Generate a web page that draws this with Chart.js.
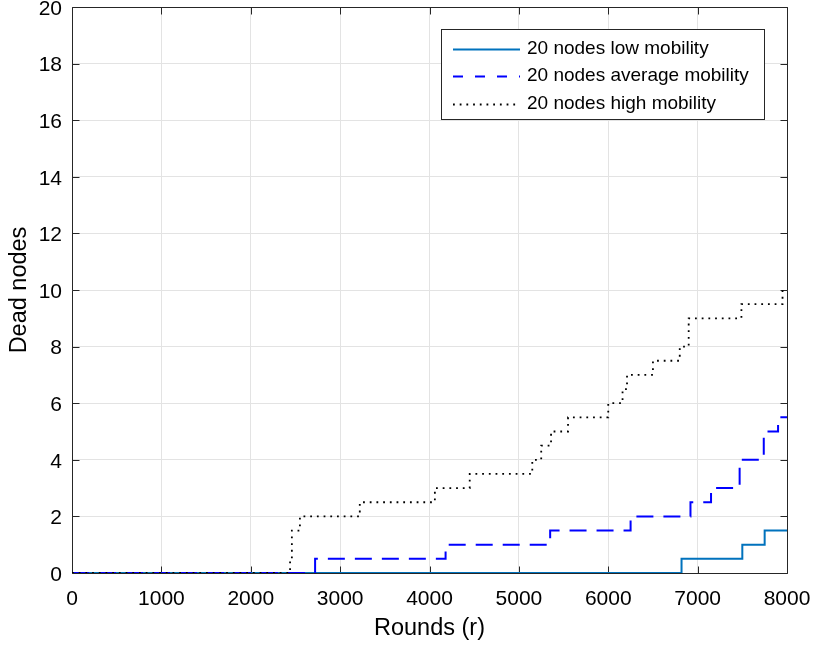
<!DOCTYPE html>
<html>
<head>
<meta charset="utf-8">
<script src="https://cdn.jsdelivr.net/npm/chart.js@4.4.1/dist/chart.umd.min.js"></script>
<style>
    html, body { margin: 0; padding: 0; background: #fff; }
</style>
</head>
<body>
<canvas id="chartDeadNodes" width="813" height="649"></canvas>
<script>
// Dead nodes vs rounds, 20 nodes, three mobility levels (step curves)

// x = round where the step happens, y = dead nodes after that round
const lowX = [0, 6820, 7500, 7750, 8000];
const lowY = [0, 0.5, 1, 1.5, 1.5];

const avgX = [0, 2720, 4180, 5350, 6250, 6920, 7150, 7470, 7740, 7900, 8000];
const avgY = [0, 0.5, 1, 1.5, 2, 2.5, 3, 4, 5, 5.5, 5.5];

const highX = [0, 2440, 2460, 2550, 3220, 4060, 4450, 5150, 5250, 5360, 5550, 6000, 6160, 6210, 6500, 6800, 6900, 7490, 7950, 8000];
const highY = [0, 0.5, 1.5, 2, 2.5, 3, 3.5, 4, 4.5, 5, 5.5, 6, 6.5, 7, 7.5, 8, 9, 9.5, 10, 10];

const seriesLabels = ['20 nodes low mobility', '20 nodes average mobility', '20 nodes high mobility'];

const xMin = 0, xMax = 8000, xStep = 1000;
const yMin = 0, yMax = 20, yStep = 2;

const FONT = "'Liberation Sans', Arial, Helvetica, sans-serif";
const AXIS_COLOR = '#262626';
const TEXT_COLOR = '#000';

const toPoints = (xs, ys) => xs.map((x, i) => ({ x, y: ys[i] }));

// ============================
// frame + inward ticks (matlab box style)
// ============================
const framePlugin = {
    id: 'frame',
    beforeDatasetsDraw(chart) {
        const { ctx, chartArea: a, scales: { x, y } } = chart;
        const px = v => Math.round(v) + 0.5;
        const L = px(a.left), R = px(a.right), T = px(a.top), B = px(a.bottom);
        const tick = 7;
        ctx.save();
        ctx.strokeStyle = AXIS_COLOR;
        ctx.lineWidth = 1;
        ctx.beginPath();
        ctx.rect(L, T, R - L, B - T);
        x.ticks.forEach(t => {
            const xp = px(x.getPixelForValue(t.value));
            ctx.moveTo(xp, B); ctx.lineTo(xp, B - tick);
            ctx.moveTo(xp, T); ctx.lineTo(xp, T + tick);
        });
        y.ticks.forEach(t => {
            const yp = px(y.getPixelForValue(t.value));
            ctx.moveTo(L, yp); ctx.lineTo(L + tick, yp);
            ctx.moveTo(R, yp); ctx.lineTo(R - tick, yp);
        });
        ctx.stroke();
        ctx.restore();
    }
};

// ============================
// legend box inside the plot, top right
// ============================
const legendDash = [[], [10, 12], [1.8, 4.9]];
const boxLegendPlugin = {
    id: 'boxLegend',
    afterDraw(chart) {
        const { ctx } = chart;
        const bx = 441.5, by = 29.5, bw = 323, bh = 90;
        ctx.save();
        ctx.fillStyle = '#fff';
        ctx.fillRect(bx, by, bw, bh);
        ctx.strokeStyle = AXIS_COLOR;
        ctx.lineWidth = 1;
        ctx.strokeRect(bx, by, bw, bh);

        ctx.font = '19px ' + FONT;
        ctx.textBaseline = 'middle';
        ctx.textAlign = 'left';
        const rows = [48.5, 76, 103.5];
        chart.data.datasets.forEach((ds, i) => {
            const yy = Math.round(rows[i]) + 0.5;
            ctx.beginPath();
            ctx.strokeStyle = ds.borderColor;
            ctx.lineWidth = ds.borderWidth;
            ctx.setLineDash(legendDash[i]);
            ctx.moveTo(453, yy);
            ctx.lineTo(520, yy);
            ctx.stroke();
            ctx.setLineDash([]);
            ctx.fillStyle = TEXT_COLOR;
            ctx.fillText(ds.label, 527, rows[i]);
        });
        ctx.restore();
    }
};

new Chart(document.getElementById('chartDeadNodes').getContext('2d'), {
    type: 'line',
    data: {
        datasets: [
            {
                label: seriesLabels[0],
                data: toPoints(lowX, lowY),
                borderColor: '#0072BD',
                borderWidth: 2,
                stepped: true,
                order: 3
            },
            {
                label: seriesLabels[1],
                data: toPoints(avgX, avgY),
                borderColor: '#0000FF',
                borderWidth: 2,
                borderDash: [17, 10],
                stepped: true,
                order: 2
            },
            {
                label: seriesLabels[2],
                data: toPoints(highX, highY),
                borderColor: '#000000',
                borderWidth: 1.8,
                borderDash: [1.8, 4.9],
                stepped: true,
                order: 1
            }
        ]
    },
    options: {
        responsive: false,
        animation: false,
        layout: { padding: { left: 0, top: 7, right: 26, bottom: 0 } },
        elements: { point: { radius: 0 }, line: { tension: 0, fill: false } },
        plugins: {
            legend: { display: false },
            tooltip: { enabled: false }
        },
        scales: {
            x: {
                type: 'linear',
                min: xMin,
                max: xMax,
                afterFit: s => { s.height = 76; s.paddingLeft = 0; s.paddingRight = 0; },
                ticks: {
                    stepSize: xStep,
                    autoSkip: false,
                    maxRotation: 0,
                    padding: 14,
                    color: TEXT_COLOR,
                    font: { family: FONT, size: 21 },
                    callback: v => String(v)
                },
                grid: { color: '#e3e3e3', lineWidth: 1, drawTicks: false },
                border: { display: false },
                title: {
                    display: true,
                    text: 'Rounds (r)',
                    color: TEXT_COLOR,
                    font: { family: FONT, size: 23.5 },
                    padding: { top: 0, bottom: 6 }
                }
            },
            y: {
                type: 'linear',
                min: yMin,
                max: yMax,
                afterFit: s => { s.width = 72; s.paddingTop = 0; s.paddingBottom = 0; },
                ticks: {
                    stepSize: yStep,
                    autoSkip: false,
                    padding: 10,
                    labelOffset: 2,
                    color: TEXT_COLOR,
                    font: { family: FONT, size: 21 },
                    callback: v => String(v)
                },
                grid: { color: '#e3e3e3', lineWidth: 1, drawTicks: false },
                border: { display: false },
                title: {
                    display: true,
                    text: 'Dead nodes',
                    color: TEXT_COLOR,
                    font: { family: FONT, size: 23.5 },
                    padding: { top: 5, bottom: 0 }
                }
            }
        }
    },
    plugins: [framePlugin, boxLegendPlugin]
});
</script>
</body>
</html>
